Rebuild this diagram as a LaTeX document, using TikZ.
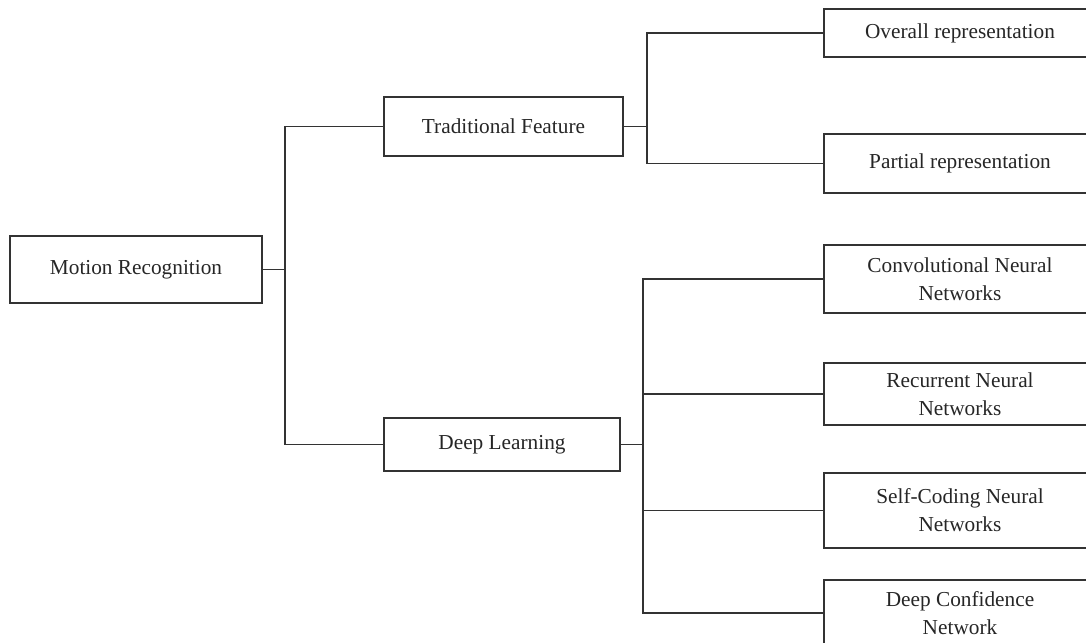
\documentclass[tikz,border=0pt]{standalone}
\usepackage{fontspec}
\setmainfont{Liberation Serif}
\begin{document}
\begin{tikzpicture}[x=1pt,y=-1pt,
  every node/.style={font=\fontsize{21.3}{28}\selectfont, text=black!85},
  box/.style={draw=black!80, line width=1.3pt, rectangle, inner sep=0pt, align=center},
  leaf/.style={box, minimum width=272pt},
  link/.style={draw=black!80, line width=1.3pt}]
  \useasboundingbox (0,0) rectangle (1086,642);
  \clip (0,0) rectangle (1086,642);

  % root and first level
  \node[box, minimum width=252pt, minimum height=67pt] (mr) at (136,269.5) {Motion Recognition};
  \node[box, minimum width=239pt, minimum height=59pt] (tf) at (503.5,126.5) {Traditional Feature};
  \node[box, minimum width=236pt, minimum height=53pt] (dl) at (502,444.5) {Deep Learning};

  % leaves (open to the right)
  \node[leaf, minimum height=48pt] (ov) at (960,33) {Overall representation};
  \node[leaf, minimum height=59pt] (pa) at (960,163.5) {Partial representation};
  \node[leaf, minimum height=68pt] (cnn) at (960,279) {Convolutional Neural\\Networks};
  \node[leaf, minimum height=62pt] (rnn) at (960,394) {Recurrent Neural\\Networks};
  \node[leaf, minimum height=75pt] (sc) at (960,510.5) {Self-Coding Neural\\Networks};
  \node[leaf, minimum height=66pt] (dc) at (960,613) {Deep Confidence\\Network};

  % junction points
  \coordinate (j1) at (285,269.5);
  \coordinate (j2) at (647,126.5);
  \coordinate (j3) at (643,444.5);

  % connectors
  \draw[link] (mr.east) -- (j1);
  \draw[link] (tf.west) -| (j1) |- (dl.west);
  \draw[link] (tf.east) -- (j2);
  \draw[link] (ov.west) -| (j2) |- (pa.west);
  \draw[link] (dl.east) -- (j3);
  \draw[link] (cnn.west) -| (j3) |- (dc.west);
  \draw[link] (rnn.west) -- (rnn.west -| j3);
  \draw[link] (sc.west) -- (sc.west -| j3);
\end{tikzpicture}
\end{document}
